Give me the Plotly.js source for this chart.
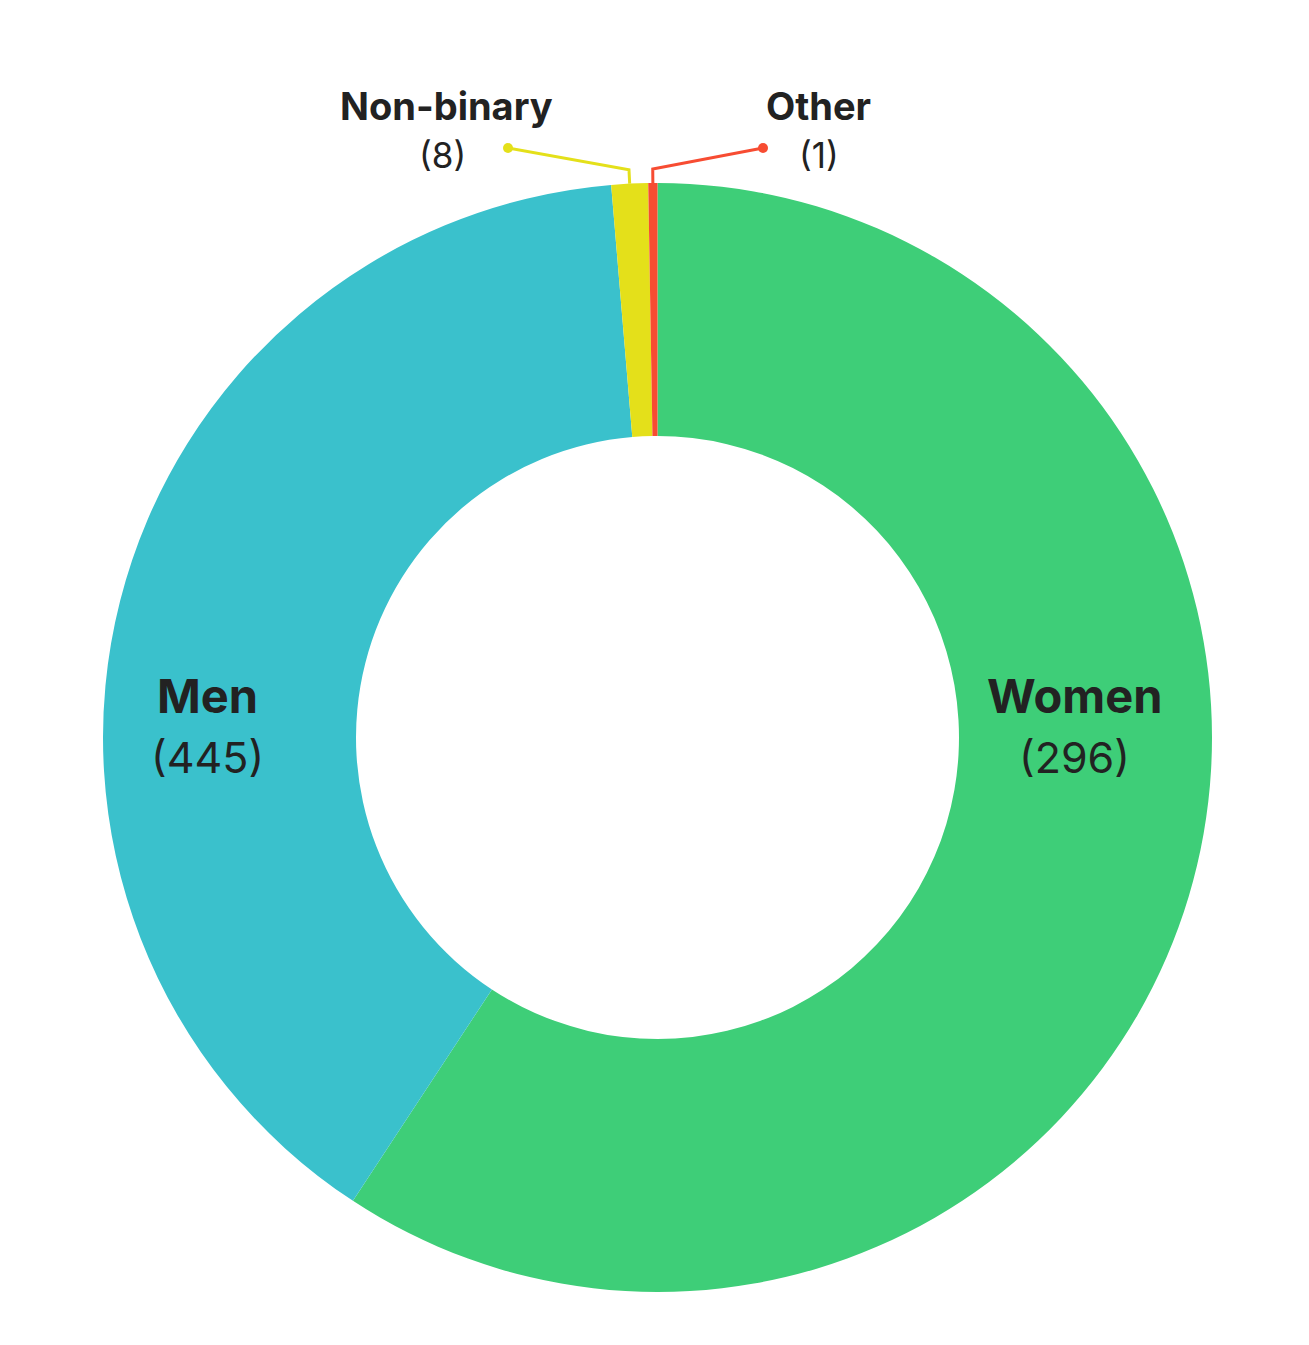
<!DOCTYPE html>
<html>
<head>
<meta charset="utf-8">
<script src="https://cdn.plot.ly/plotly-3.0.1.min.js"></script>
<style>
  html, body { margin: 0; padding: 0; background: #ffffff; }
  #chart { width: 1309px; height: 1345px; }
</style>
</head>
<body>
<div id="chart"></div>
<script>
// slice order clockwise from 12 o'clock
const categories = ['Women', 'Men', 'Non-binary', 'Other'];
// slice sizes as drawn in the picture
const sliceValues = [445, 296, 8, 2];
// counts printed under each label
const countLabels = [296, 445, 8, 1];
const colors = ['#3ECE78', '#3AC1CC', '#E4E01A', '#F74C32'];

const W = 1309, H = 1345;
const px = x => x / W;
const py = y => 1 - y / H;

// pie box in pixels
const pieBox = {left: 103, right: 1212, top: 183, bottom: 1292};
const cx = (pieBox.left + pieBox.right) / 2;
const cy = (pieBox.top + pieBox.bottom) / 2;
const R = (pieBox.right - pieBox.left) / 2;

// label placement (pixel centres of title and count lines)
const labelPos = {
  'Women':      {x: 1074, title: 695, count: 757, big: true},
  'Men':        {x: 207,  title: 695, count: 757, big: true},
  'Non-binary': {x: 446,  title: 106, count: 155, countX: 442},
  'Other':      {x: 819,  title: 106, count: 155}
};
// leader dots for the thin slices
const leaderDots = {
  'Non-binary': [508, 148],
  'Other': [763, 148]
};

const textColor = '#222222';
const annotations = [];
categories.forEach((c, i) => {
  const p = labelPos[c];
  annotations.push({
    xref: 'paper', yref: 'paper', x: px(p.x), y: py(p.title),
    xanchor: 'center', yanchor: 'middle', showarrow: false,
    text: '<b>' + c + '</b>',
    font: {family: 'Inter', size: p.big ? 47 : 38, color: textColor}
  });
  annotations.push({
    xref: 'paper', yref: 'paper', x: px(p.countX || p.x), y: py(p.count),
    xanchor: 'center', yanchor: 'middle', showarrow: false,
    text: '(' + countLabels[i] + ')',
    font: {family: 'Inter', size: p.big ? 43 : 35, color: textColor}
  });
});

// leader lines from the middle of each thin slice
const total = sliceValues.reduce((a, b) => a + b, 0);
const shapes = [];
let cum = 0;
categories.forEach((c, i) => {
  const a0 = cum / total * 2 * Math.PI;
  cum += sliceValues[i];
  const a1 = cum / total * 2 * Math.PI;
  if (!leaderDots[c]) return;
  const mid = (a0 + a1) / 2;
  const x0 = cx + R * Math.sin(mid), y0 = cy - R * Math.cos(mid);
  const x1 = cx + (R + 14) * Math.sin(mid), y1 = cy - (R + 14) * Math.cos(mid);
  const d = leaderDots[c];
  shapes.push({
    type: 'path', xref: 'paper', yref: 'paper',
    path: 'M ' + px(x0) + ',' + py(y0) + ' L ' + px(x1) + ',' + py(y1) + ' L ' + px(d[0]) + ',' + py(d[1]),
    line: {color: colors[i], width: 3}
  });
  shapes.push({
    type: 'circle', xref: 'paper', yref: 'paper',
    x0: px(d[0] - 5), x1: px(d[0] + 5), y0: py(d[1] + 5), y1: py(d[1] - 5),
    fillcolor: colors[i], line: {width: 0}
  });
});

const data = [{
  type: 'pie',
  labels: categories,
  values: sliceValues,
  marker: {colors: colors, line: {width: 0}},
  hole: 301.5 / 554.5,
  sort: false,
  direction: 'clockwise',
  rotation: 0,
  textinfo: 'none',
  hoverinfo: 'label',
  showlegend: false,
  domain: {
    x: [px(pieBox.left), px(pieBox.right)],
    y: [py(pieBox.bottom), py(pieBox.top)]
  }
}];

const layout = {
  width: W,
  height: H,
  margin: {l: 0, r: 0, t: 0, b: 0},
  paper_bgcolor: '#ffffff',
  plot_bgcolor: '#ffffff',
  showlegend: false,
  annotations: annotations,
  shapes: shapes
};

Plotly.newPlot('chart', data, layout, {displayModeBar: false});
</script>
</body>
</html>
